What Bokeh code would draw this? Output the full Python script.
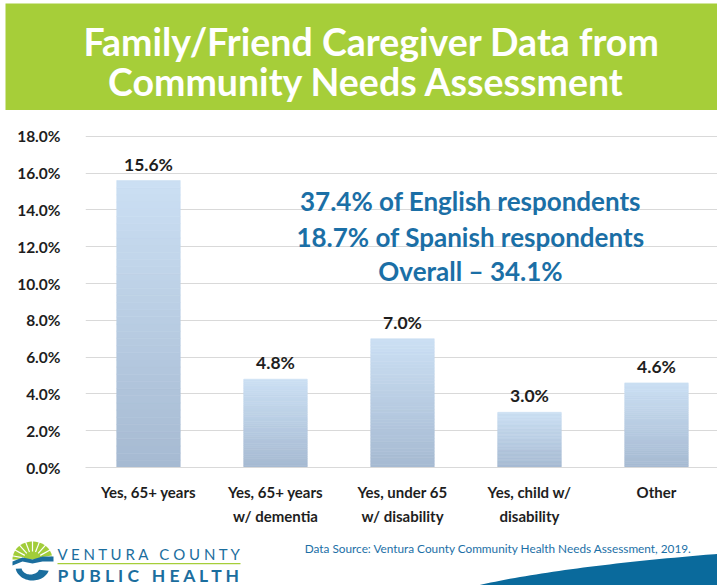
import numpy as np
from bokeh.plotting import figure
from bokeh.models import Range1d, FixedTicker, ColumnDataSource
from bokeh.layouts import column
from bokeh.core.properties import value
from bokeh.embed import file_html
from bokeh.resources import INLINE

# ---------------- data ----------------
title_lines = ["Family/Friend Caregiver Data from", "Community Needs Assessment"]
categories = ["Yes, 65+ years", "Yes, 65+ years\nw/ dementia", "Yes, under 65\nw/ disability",
              "Yes, child w/\ndisability", "Other"]
percent = [15.6, 4.8, 7.0, 3.0, 4.6]
y_ticks = [0, 2, 4, 6, 8, 10, 12, 14, 16, 18]
y_tick_labels = ["0.0%", "2.0%", "4.0%", "6.0%", "8.0%", "10.0%", "12.0%", "14.0%", "16.0%", "18.0%"]
note_lines = ["37.4% of English respondents", "18.7% of Spanish respondents", "Overall \u2013 34.1%"]
source_text = "Data Source: Ventura County Community Health Needs Assessment, 2019."
logo_words = [["VENTURA", "COUNTY"], ["PUBLIC", "HEALTH"]]

# ---------------- style / geometry ----------------
W = 717
FONT = "Lato"
GREEN = "#a6ce39"
BLUE = "#1b6fa6"
LOGO_BLUE = "#1b6e9e"
DARK = "#1e1e1e"
GRID = "#d9d9d9"
COMMON = dict(output_backend="svg", toolbar_location=None, outline_line_color=None,
              frame_align=False)


def deco_fig(h, y0, y1):
    f = figure(width=W, height=h, x_range=Range1d(0, W), y_range=Range1d(y1, y0),
               min_border=0, x_axis_location=None, y_axis_location=None, **COMMON)
    f.grid.visible = False
    return f


# ---------------- header (page y 0..110) ----------------
head = deco_fig(110, 0, 110)
head.quad(left=[5], right=[W], top=[3], bottom=[110], fill_color=GREEN, line_color=None)
head.text(x=[371, 366], y=[41, 81], text=title_lines, text_font=value(FONT),
          text_font_style="bold", text_font_size="37.5px", text_color="white",
          text_align="center", text_baseline="middle")

# ---------------- chart (page y 110..530) ----------------
FL, FT, FH, FB = 85, 25, 332, 63
CH = FT + FH + FB
Y_END = 18.05
X0 = 0.504
PX_PER_X = 127.0
X_END = X0 + (W - FL) / PX_PER_X
PX_PER_Y = FH / Y_END
Y_ZERO_PAGE = 110 + FT + FH


def py(ypage):
    return (Y_ZERO_PAGE - ypage) / PX_PER_Y


def px(xpage):
    return X0 + (xpage - FL) / PX_PER_X


chart = figure(width=W, height=CH, x_range=Range1d(X0, X_END), y_range=Range1d(0, Y_END),
               min_border_left=FL, min_border_right=0, min_border_top=FT, min_border_bottom=FB,
               **COMMON)

x_pos = [i + 1 for i in range(len(categories))]
n = 40
bottom_rgb = np.array([166, 186, 210])
top_rgb = np.array([204, 224, 244])
L, R, B, T, C = [], [], [], [], []
for x, v in zip(x_pos, percent):
    edges = np.linspace(0, v, n + 1)
    for k in range(n):
        t = (k + 0.5) / n
        rgb = (bottom_rgb + (top_rgb - bottom_rgb) * t).astype(int)
        L.append(x - 0.25)
        R.append(x + 0.25)
        B.append(edges[k])
        T.append(edges[k + 1])
        C.append("#%02x%02x%02x" % tuple(rgb))
chart.quad(left=L, right=R, bottom=B, top=T, fill_color=C, line_color=C, line_width=0.6)

lab_src = ColumnDataSource(dict(x=x_pos, y=percent, t=[f"{v:.1f}%" for v in percent]))
chart.text(x="x", y="y", text="t", source=lab_src, text_font=value(FONT), text_font_style="bold",
           text_font_size="17.5px", text_color=DARK, text_align="center", text_baseline="bottom",
           y_offset=-6)

chart.text(x=[px(470)] * 3, y=[py(200), py(236), py(270)], text=note_lines, text_font=value(FONT),
           text_font_style="bold", text_font_size="26px", text_color=BLUE,
           text_align="center", text_baseline="middle")

chart.xaxis.ticker = FixedTicker(ticks=x_pos)
chart.xaxis.major_label_overrides = {x: c for x, c in zip(x_pos, categories)}
chart.xaxis.major_tick_line_color = None
chart.xaxis.minor_tick_line_color = None
chart.xaxis.axis_line_color = GRID
chart.xaxis.major_label_text_font = FONT
chart.xaxis.major_label_text_font_style = "bold"
chart.xaxis.major_label_text_font_size = "15px"
chart.xaxis.major_label_text_color = DARK
chart.xaxis.major_label_standoff = 9
chart.xaxis.major_label_text_line_height = 1.38

chart.yaxis.ticker = FixedTicker(ticks=y_ticks)
chart.yaxis.major_label_overrides = {t: s for t, s in zip(y_ticks, y_tick_labels)}
chart.yaxis.axis_line_color = None
chart.yaxis.major_tick_line_color = None
chart.yaxis.minor_tick_line_color = None
chart.yaxis.major_label_text_font = FONT
chart.yaxis.major_label_text_font_style = "bold"
chart.yaxis.major_label_text_font_size = "15.5px"
chart.yaxis.major_label_text_color = DARK
chart.yaxis.major_label_standoff = 19
chart.xgrid.visible = False
chart.ygrid.grid_line_color = GRID

# ---------------- footer (page y 530..585) ----------------
foot = deco_fig(585 - 110 - CH, 110 + CH, 585)

tt = np.linspace(0, 1, 40)
q0, q1, q2 = np.array([477, 585]), np.array([560, 566]), np.array([722, 553])
curve = ((1 - tt) ** 2)[:, None] * q0 + (2 * (1 - tt) * tt)[:, None] * q1 + (tt ** 2)[:, None] * q2
foot.patch(list(curve[:, 0]) + [722, 477], list(curve[:, 1]) + [600, 600],
           fill_color="#0a6a9c", line_color=None)

foot.text(x=[498], y=[548], text=[source_text], text_font=value(FONT), text_font_size="11.8px",
          text_color=BLUE, text_align="center", text_baseline="middle")

# logo: sun with rays and blue waves
ang = np.linspace(0, np.pi, 30)
foot.patch(list(32 + 20 * np.cos(ang)), list(559 - 18 * np.sin(ang)),
           fill_color="#a2cd3a", line_color=None)
ray_a = np.linspace(0.2, np.pi - 0.2, 9)
foot.segment(x0=list(32 + 9 * np.cos(ray_a)), y0=list(559 - 8 * np.sin(ray_a)),
             x1=list(32 + 21 * np.cos(ray_a)), y1=list(559 - 19 * np.sin(ray_a)),
             line_color="white", line_width=1.2)
foot.patch([12, 22, 32, 42, 53, 53, 42, 32, 22, 12],
           [561, 557, 559, 556, 556, 561, 561, 563, 561, 565],
           fill_color=LOGO_BLUE, line_color=None)
ang2 = np.linspace(np.pi * 0.1, np.pi * 0.95, 30)
foot.patch(list(32 + 17 * np.cos(ang2)) + list(30 + 9 * np.cos(ang2[::-1])),
           list(566 + 14 * np.sin(ang2)) + list(567 + 7 * np.sin(ang2[::-1])),
           fill_color=LOGO_BLUE, line_color=None)

gap = "\u00a0\u00a0\u00a0"
logo_top = gap.join(" ".join(w) for w in logo_words[0])
logo_bot = gap.join(" ".join(w) for w in logo_words[1])
foot.text(x=[57], y=[553], text=[logo_top], text_font=value(FONT), text_font_size="15px",
          text_color=LOGO_BLUE, text_align="left", text_baseline="middle")
foot.quad(left=[57], right=[240], top=[562.5], bottom=[563.8], fill_color=GREEN, line_color=None)
foot.text(x=[57], y=[575], text=[logo_bot], text_font=value(FONT), text_font_style="bold",
          text_font_size="17.5px", text_color=LOGO_BLUE, text_align="left", text_baseline="middle")

layout = column(head, chart, foot, spacing=0)
open("out.html", "w").write(file_html(layout, INLINE))
